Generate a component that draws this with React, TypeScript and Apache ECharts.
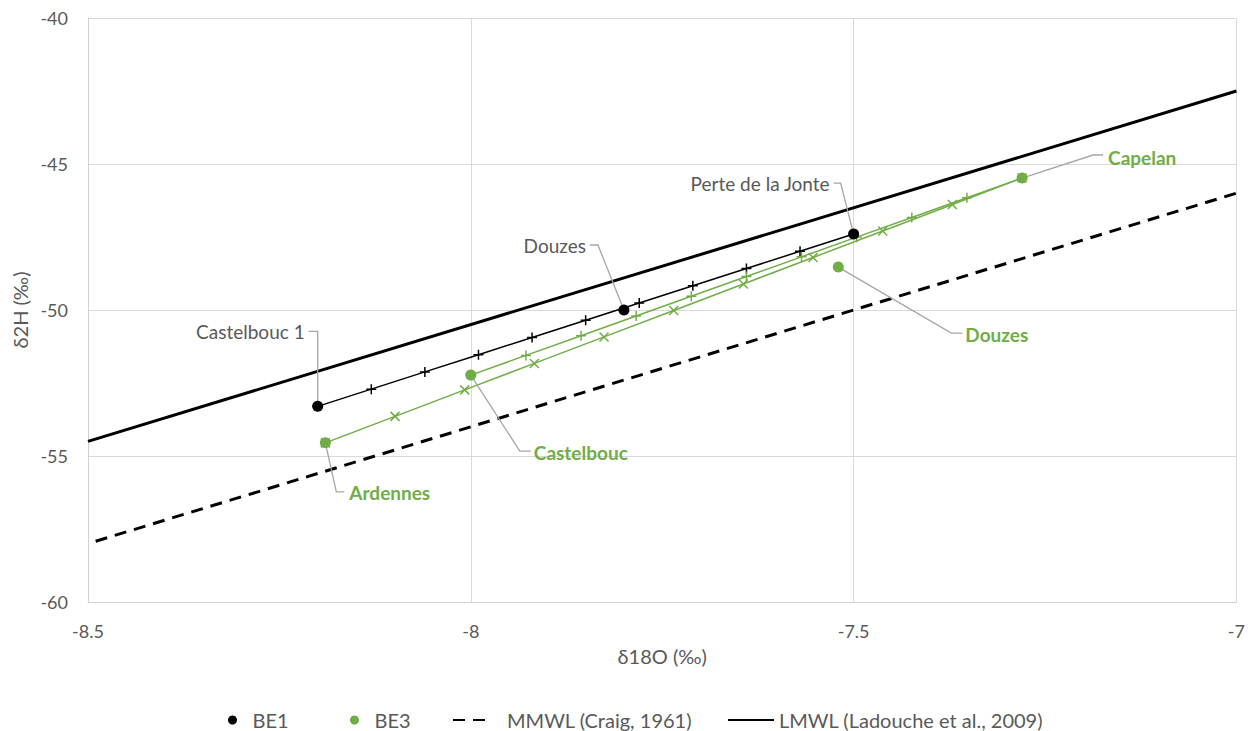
import React, { useEffect, useRef } from "react";
import * as echarts from "echarts";

// ---- Data ----
const be1Names = ["Castelbouc 1", "Douzes", "Perte de la Jonte"];
const be1X = [-8.2, -7.8, -7.5];
const be1Y = [-53.3, -50.0, -47.4];

const be3Names = ["Ardennes", "Castelbouc", "Douzes", "Capelan"];
const be3X = [-8.19, -8.0, -7.52, -7.28];
const be3Y = [-54.55, -52.23, -48.53, -45.48];

// mixing line Castelbouc 1 -> Perte de la Jonte (BE1, "+" markers)
const mixBE1X = [-8.2, -8.13, -8.06, -7.99, -7.92, -7.85, -7.78, -7.71, -7.64, -7.57, -7.5];
const mixBE1Y = [-53.3, -52.71, -52.12, -51.53, -50.94, -50.35, -49.76, -49.17, -48.58, -47.99, -47.4];

// mixing line Castelbouc -> Capelan (BE3, "+" markers)
const mixCastX = [-8.0, -7.928, -7.856, -7.784, -7.712, -7.64, -7.568, -7.496, -7.424, -7.352, -7.28];
const mixCastY = [-52.23, -51.555, -50.88, -50.205, -49.53, -48.855, -48.18, -47.505, -46.83, -46.155, -45.48];

// mixing line Ardennes -> Capelan (BE3, "x" markers)
const mixArdX = [-8.19, -8.099, -8.008, -7.917, -7.826, -7.735, -7.644, -7.553, -7.462, -7.371, -7.28];
const mixArdY = [-54.55, -53.643, -52.736, -51.829, -50.922, -50.015, -49.108, -48.201, -47.294, -46.387, -45.48];

// meteoric water lines
const mmwlX = [-8.49, -7.0];
const mmwlY = [-57.92, -46.0];
const lmwlX = [-8.5, -7.0];
const lmwlY = [-54.5, -42.5];

const xTicks = { min: -8.5, max: -7, interval: 0.5 };
const yTicks = { min: -60, max: -40, interval: 5 };

const legendNames = ["BE1", "BE3", "MMWL (Craig, 1961)", "LMWL (Ladouche et al., 2009)"];

const zip = (xs: number[], ys: number[]) => xs.map((x, i) => [x, ys[i]]);

const GREEN = "#70ad47";
const GREY = "#595959";
const FONT = "Lato";

// label leader-line layout (pixel offsets relative to the point)
const be1Leaders = [
  { pts: [[0, 0], [0, -75], [-9, -75]], tx: -13, ty: -75, align: "right" },
  { pts: [[0, 0], [-26, -65], [-34, -65]], tx: -38, ty: -65, align: "right" },
  { pts: [[0, 0], [-13, -51], [-20, -51]], tx: -24, ty: -51, align: "right" },
];
const be3Leaders = [
  { pts: [[0, 0], [11, 49], [19, 49]], tx: 24, ty: 50, align: "left" },
  { pts: [[0, 0], [49, 76], [60, 76]], tx: 63, ty: 77, align: "left" },
  { pts: [[0, 0], [113, 66], [124, 66]], tx: 127, ty: 67, align: "left" },
  { pts: [[0, 0], [71, -23], [81, -23]], tx: 86, ty: -21, align: "left" },
];

// legend item placement
const legendLayout = [
  { left: 228, itemWidth: 30, padLeft: 0, hideSymbol: false },
  { left: 350, itemWidth: 30, padLeft: 0, hideSymbol: false },
  { left: 452, itemWidth: 38, padLeft: 11, hideSymbol: true },
  { left: 727, itemWidth: 46, padLeft: 0, hideSymbol: true },
];

const PLUS = "path://M0,5L10,5M5,0L5,10";
const CROSS = "path://M0,0L10,10M10,0L0,10";

export default function App() {
  const ref = useRef<HTMLDivElement>(null);
  useEffect(() => {
    if (!ref.current) return;
    const chart = echarts.init(ref.current, undefined, { renderer: "svg" });
    const mixSeries = (name: string, data: number[][], color: string, symbol: string, size: number) => ({
      name,
      type: "line",
      data,
      symbol,
      symbolSize: size,
      showSymbol: true,
      lineStyle: { color, width: 1.5 },
      itemStyle: { color, borderColor: color, borderWidth: 1.5 },
      z: 3,
      silent: true,
    });
    const legends = legendNames.map((n, i) => {
      const L = legendLayout[i];
      return {
        data: [
          {
            name: n,
            ...(L.hideSymbol ? { itemStyle: { opacity: 0 } } : { itemStyle: { opacity: 1 } }),
            textStyle: { padding: [0, 0, 0, L.padLeft] },
          },
        ],
        left: L.left,
        top: 710,
        padding: 0,
        itemWidth: L.itemWidth,
        itemHeight: 9,
        textStyle: { color: GREY, fontSize: 20, fontFamily: FONT },
        selectedMode: false,
      };
    });
    const option: any = {
      animation: false,
      textStyle: { fontFamily: FONT },
      grid: { left: 88, right: 11, top: 18, bottom: 129 },
      xAxis: {
        type: "value",
        min: xTicks.min,
        max: xTicks.max,
        interval: xTicks.interval,
        name: "δ18O (‰)",
        nameLocation: "middle",
        nameGap: 44,
        nameTextStyle: { color: GREY, fontSize: 20, fontFamily: FONT },
        axisLine: { show: true, lineStyle: { color: "#d0d0d0", width: 1 } },
        axisTick: { show: false },
        axisLabel: { color: GREY, fontSize: 18, fontFamily: FONT, margin: 20 },
        splitLine: { show: true, lineStyle: { color: "#d9d9d9", width: 1 } },
      },
      yAxis: {
        type: "value",
        min: yTicks.min,
        max: yTicks.max,
        interval: yTicks.interval,
        name: "δ2H (‰)",
        nameLocation: "middle",
        nameGap: 48,
        nameTextStyle: { color: GREY, fontSize: 20, fontFamily: FONT },
        axisLine: { show: true, lineStyle: { color: "#d0d0d0", width: 1 } },
        axisTick: { show: false },
        axisLabel: { color: GREY, fontSize: 18, fontFamily: FONT, margin: 20 },
        splitLine: { show: true, lineStyle: { color: "#d9d9d9", width: 1 } },
      },
      legend: legends,
      series: [
        {
          name: legendNames[2],
          type: "line",
          data: zip(mmwlX, mmwlY),
          symbol: "none",
          lineStyle: { color: "#000", width: 3, type: [12, 8] },
          itemStyle: { color: "#000" },
          z: 1,
          silent: true,
        },
        {
          name: legendNames[3],
          type: "line",
          data: zip(lmwlX, lmwlY),
          symbol: "none",
          lineStyle: { color: "#000", width: 3 },
          itemStyle: { color: "#000" },
          z: 1,
          silent: true,
        },
        mixSeries("mixBE1", zip(mixBE1X, mixBE1Y), "#000", PLUS, 10),
        mixSeries("mixCast", zip(mixCastX, mixCastY), GREEN, PLUS, 10),
        mixSeries("mixArd", zip(mixArdX, mixArdY), GREEN, CROSS, 9),
        {
          name: legendNames[0],
          type: "scatter",
          data: zip(be1X, be1Y),
          symbol: "circle",
          symbolSize: 11,
          itemStyle: { color: "#000", opacity: 1 },
          z: 5,
        },
        {
          name: legendNames[1],
          type: "scatter",
          data: zip(be3X, be3Y),
          symbol: "circle",
          symbolSize: 11,
          itemStyle: { color: GREEN, opacity: 1 },
          z: 5,
        },
      ],
    };
    chart.setOption(option);

    const graphics: any[] = [];
    const addLabel = (x: number, y: number, name: string, lay: any, color: string, bold: boolean) => {
      const p = chart.convertToPixel({ gridIndex: 0 }, [x, y]) as number[];
      graphics.push({
        type: "polyline",
        shape: { points: lay.pts.map((q: number[]) => [p[0] + q[0], p[1] + q[1]]) },
        style: { stroke: "#a6a6a6", lineWidth: 1.3, fill: null },
        z: 4,
        silent: true,
      });
      graphics.push({
        type: "text",
        x: p[0] + lay.tx,
        y: p[1] + lay.ty,
        style: {
          text: name,
          fill: color,
          fontSize: 19,
          fontFamily: FONT,
          fontWeight: bold ? "bold" : "normal",
          align: lay.align,
          verticalAlign: "middle",
        },
        z: 6,
        silent: true,
      });
    };
    be1Names.forEach((n, i) => addLabel(be1X[i], be1Y[i], n, be1Leaders[i], GREY, false));
    be3Names.forEach((n, i) => addLabel(be3X[i], be3Y[i], n, be3Leaders[i], GREEN, true));
    chart.setOption({ graphic: graphics });

    return () => chart.dispose();
  }, []);
  return (
    <div
      ref={ref}
      style={{ position: "fixed", left: 0, top: 0, width: 1248, height: 731, background: "#fff" }}
    />
  );
}
